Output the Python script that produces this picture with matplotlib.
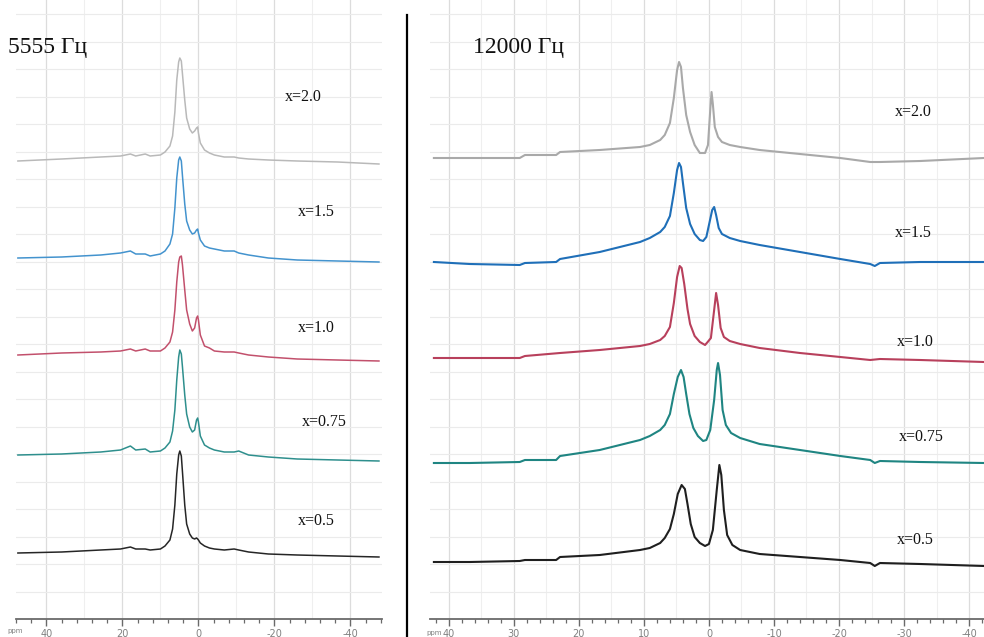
import matplotlib
matplotlib.use("Agg")
import matplotlib.pyplot as plt
from matplotlib.lines import Line2D
import numpy as np

# ---------------- data (trace level; axis inverted) ----------------
labels = ["x=2.0", "x=1.5", "x=1.0", "x=0.75", "x=0.5"]
colors_left = ["#b9b9b9", "#4393ce", "#c2506c", "#2e8f8d", "#262626"]
colors_right = ["#a9a9a9", "#1f6fb8", "#b8405c", "#1f8582", "#1f1f1f"]

# left panel: 5555 Hz
L_ppm = [47.5, 36, 25.7, 20.5, 17.9, 16.5, 14.0, 12.7, 10.0, 8.8, 7.5, 6.8, 6.2, 5.7, 5.2, 4.9,
         4.5, 4.2, 3.6, 3.1, 2.3, 1.6, 1.0, 0.5, 0.2, 0.0, -0.5, -1.6, -2.9, -4.2, -6.8, -9.4,
         -10.6, -13.2, -18.4, -26.0, -36.6, -47.5]
L_x20 = [161, 159, 157, 156, 154, 156, 154, 156, 155, 152, 146, 136, 112, 80, 62, 58,
         61, 74, 100, 118, 129, 133, 131, 128, 127, 133, 143, 150, 153, 155, 157, 157,
         158, 159, 160, 161, 162, 164]
L_x15 = [258, 257, 255, 253, 251, 254, 254, 256, 254, 251, 244, 234, 208, 178, 160, 157,
         161, 176, 204, 221, 230, 234, 233, 230, 229, 233, 240, 246, 248, 249, 251, 251,
         253, 255, 258, 260, 261, 262]
L_x10 = [355, 353, 352, 351, 349, 351, 349, 351, 351, 348, 342, 332, 310, 282, 262, 257,
         256, 265, 290, 310, 324, 331, 328, 318, 316, 320, 335, 346, 348, 351, 352, 352,
         353, 355, 357, 359, 360, 361]
L_x075 = [455, 454, 452, 450, 446, 450, 449, 452, 451, 448, 442, 431, 410, 380, 357, 350,
          354, 367, 395, 414, 427, 432, 430, 420, 418, 422, 436, 445, 448, 450, 452, 452,
          451, 455, 457, 459, 460, 461]
L_x05 = [553, 552, 550, 549, 547, 549, 549, 550, 549, 546, 540, 529, 505, 474, 455, 451,
         456, 472, 505, 524, 534, 538, 539, 538, 539, 540, 543, 546, 548, 549, 550, 549,
         550, 552, 554, 555, 556, 557]

# right panel: 12000 Hz
R_x20_ppm = [42.3, 36.8, 29.1, 28.3, 23.5, 22.9, 16.8, 10.6, 9.1, 7.5, 6.8, 6.0, 5.4, 4.9, 4.6,
             4.3, 4.0, 3.5, 2.9, 2.2, 1.4, 0.6, 0.15, -0.2, -0.4, -0.6, -0.9, -1.4, -2.0, -3.2,
             -4.8, -7.8, -14.0, -20.2, -24.8, -26.3, -32.5, -42.3]
R_x20 = [158, 158, 158, 155, 155, 152, 150, 147, 145, 140, 135, 123, 98, 70, 62,
         67, 88, 115, 132, 145, 153, 153, 145, 110, 92, 104, 127, 137, 142, 145,
         147, 150, 154, 158, 162, 162, 161, 158]
R_x15_ppm = [42.3, 36.8, 29.1, 28.3, 23.5, 22.9, 16.8, 10.6, 9.1, 7.5, 6.8, 6.0, 5.4, 4.9, 4.6,
             4.3, 4.0, 3.5, 2.9, 2.2, 1.4, 0.9, 0.4, 0.0, -0.5, -0.8, -1.1, -1.5, -2.0, -3.2,
             -4.8, -7.8, -14.0, -20.2, -24.8, -25.5, -26.3, -32.5, -42.3]
R_x15 = [262, 264, 265, 263, 262, 259, 252, 242, 238, 232, 227, 216, 193, 170, 163,
         167, 183, 208, 224, 234, 240, 241, 237, 225, 210, 207, 215, 228, 234, 238,
         241, 245, 252, 259, 264, 266, 263, 262, 262]
R_x10_ppm = [42.3, 36.8, 29.1, 28.3, 22.9, 16.8, 10.6, 9.1, 7.5, 6.8, 6.0, 5.4, 4.9, 4.5, 4.2,
             3.8, 3.3, 2.9, 2.2, 1.4, 0.6, 0.2, -0.3, -0.8, -1.1, -1.4, -1.8, -2.3, -3.2, -4.8,
             -7.8, -14.0, -20.2, -24.8, -26.3, -32.5, -42.3]
R_x10 = [358, 358, 358, 356, 353, 350, 346, 344, 340, 336, 327, 303, 277, 266, 268,
         284, 309, 324, 336, 342, 345, 342, 338, 310, 293, 305, 328, 337, 341, 344,
         348, 353, 357, 360, 359, 360, 362]
R_x075_ppm = [42.3, 36.8, 29.1, 28.3, 23.5, 22.9, 16.8, 10.6, 9.1, 7.5, 6.8, 6.0, 5.4, 4.8, 4.3,
              3.9, 3.5, 3.0, 2.4, 1.7, 0.9, 0.4, -0.2, -0.8, -1.2, -1.4, -1.7, -2.1, -2.6, -3.4,
              -4.8, -7.8, -14.0, -20.2, -24.8, -25.5, -26.3, -32.5, -42.3]
R_x075 = [463, 463, 462, 460, 460, 456, 450, 440, 436, 430, 425, 414, 394, 377, 370,
          377, 394, 414, 428, 436, 441, 440, 430, 400, 370, 363, 375, 410, 425, 433,
          438, 444, 450, 456, 460, 463, 461, 462, 463]
R_x05_ppm = [42.3, 36.8, 29.1, 28.3, 23.5, 22.9, 16.8, 10.6, 9.1, 7.5, 6.8, 6.0, 5.4, 4.8, 4.2,
             3.7, 3.3, 2.8, 2.2, 1.4, 0.6, 0.0, -0.6, -1.2, -1.6, -1.9, -2.3, -2.8, -3.6, -4.8,
             -7.8, -14.0, -20.2, -24.8, -25.5, -26.3, -32.5, -42.3]
R_x05 = [562, 562, 561, 560, 560, 557, 555, 550, 548, 543, 538, 529, 514, 494, 485,
         489, 504, 524, 537, 543, 546, 544, 530, 490, 465, 475, 510, 535, 545, 550,
         554, 557, 560, 563, 566, 563, 564, 566]

left_series = [L_x20, L_x15, L_x10, L_x075, L_x05]
right_series = [(R_x20_ppm, R_x20), (R_x15_ppm, R_x15), (R_x10_ppm, R_x10),
                (R_x075_ppm, R_x075), (R_x05_ppm, R_x05)]

left_label_pos = [(-27.5, 97), (-31.0, 212), (-31.0, 328), (-33.0, 422), (-31.0, 521)]
right_label_pos = [(-31.5, 112), (-31.5, 233), (-31.8, 342), (-32.6, 437), (-31.8, 540)]

left_major = [40, 20, 0, -20, -40]
right_major = [40, 30, 20, 10, 0, -10, -20, -30, -40]

# ---------------- figure ----------------
W, H = 984, 637
fig = plt.figure(figsize=(W / 100, H / 100), dpi=100)
fig.patch.set_facecolor("white")

axis_y = 619  # px from top


def make_ax(x0, x1):
    ax = fig.add_axes([x0 / W, (H - axis_y) / H, (x1 - x0) / W, axis_y / H])
    ax.set_ylim(axis_y, 0)
    for s in ["top", "left", "right"]:
        ax.spines[s].set_visible(False)
    ax.spines["bottom"].set_color("#6a6a6a")
    ax.spines["bottom"].set_linewidth(1.3)
    ax.set_yticks(np.arange(axis_y - 27.5 * 22, axis_y, 27.5))
    ax.tick_params(axis="y", left=False, labelleft=False)
    ax.tick_params(axis="x", which="major", direction="out", length=5, width=1.0,
                   color="#6a6a6a", labelsize=7, labelcolor="#808080", pad=2)
    ax.tick_params(axis="x", which="minor", direction="out", length=3, width=0.9,
                   color="#6a6a6a")
    ax.grid(True, axis="y", color="#ebebeb", lw=0.8)
    ax.set_axisbelow(True)
    return ax


# left panel
axL = make_ax(16, 382)
axL.set_xlim(47.6, -48.3)
axL.set_xticks(left_major)
axL.set_xticks(np.arange(-48, 48.1, 4), minor=True)
axL.set_xticklabels([str(v) for v in left_major])
for v in left_major:
    axL.axvline(v, color="#dcdcdc", lw=0.9, zorder=0)
for v in [30, 10, -10, -30]:
    axL.axvline(v, color="#efefef", lw=0.8, zorder=0)
for ys, c in zip(left_series, colors_left):
    axL.plot(L_ppm, ys, color=c, lw=1.1)
for (xp, yp), t in zip(left_label_pos, labels):
    axL.text(xp, yp, t, fontsize=11.5, family="Liberation Serif", ha="center",
             va="center", color="#111111")

# right panel
axR = make_ax(430, 984)
axR.set_xlim(42.9, -42.3)
axR.set_xticks(right_major)
axR.set_xticks(np.arange(-42, 42.1, 2), minor=True)
axR.set_xticklabels([str(v) for v in right_major])
for v in right_major:
    axR.axvline(v, color="#dcdcdc", lw=0.9, zorder=0)
for v in np.arange(-35, 40, 10):
    axR.axvline(v, color="#efefef", lw=0.8, zorder=0)
for (xs, ys), c in zip(right_series, colors_right):
    axR.plot(xs, ys, color=c, lw=1.5)
for (xp, yp), t in zip(right_label_pos, labels):
    axR.text(xp, yp, t, fontsize=11.5, family="Liberation Serif", ha="center",
             va="center", color="#111111")

# panel titles
fig.text(8 / W, 1 - 47 / H, "5555 Гц", fontsize=17, family="Liberation Serif",
         ha="left", va="center", color="#111111")
fig.text(473 / W, 1 - 47 / H, "12000 Гц", fontsize=17, family="Liberation Serif",
         ha="left", va="center", color="#111111")

# "ppm" axis captions
fig.text(7 / W, 1 - 631 / H, "ppm", fontsize=5, color="#808080", va="center")
fig.text(426 / W, 1 - 633 / H, "ppm", fontsize=5, color="#808080", va="center")

# panel divider
fig.add_artist(Line2D([407 / W, 407 / W], [0, 1 - 15 / H], color="black", lw=1.6))

fig.savefig("out.png", dpi=100, facecolor="white")
